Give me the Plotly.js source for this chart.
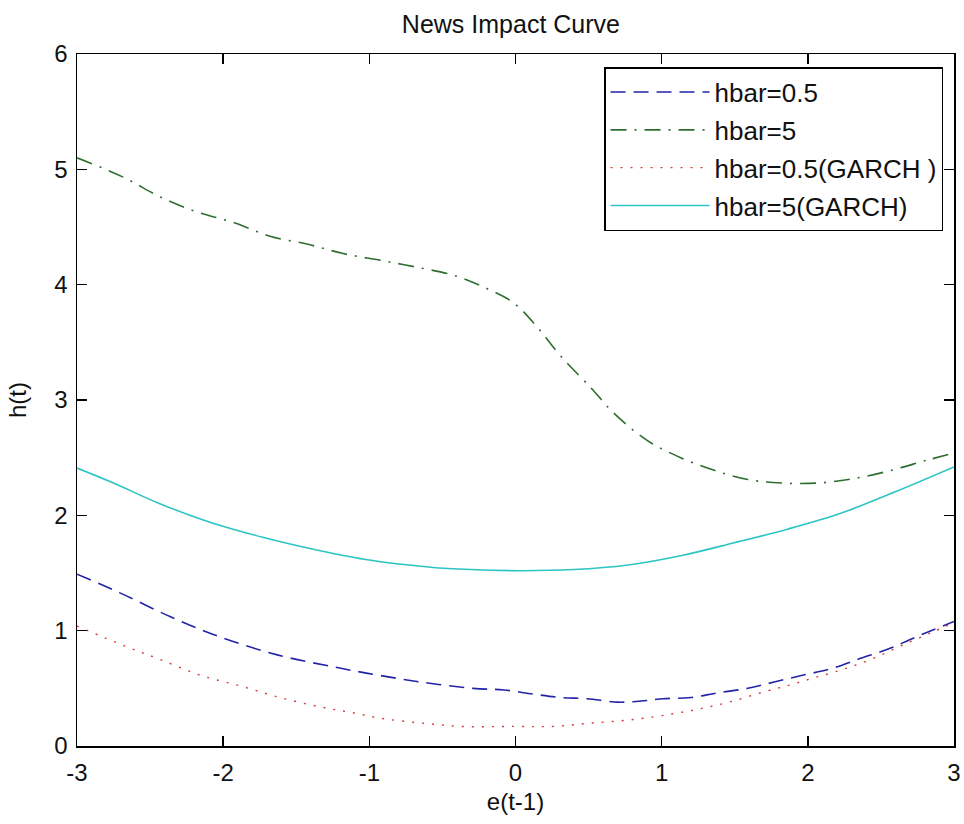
<!DOCTYPE html>
<html>
<head>
<meta charset="utf-8">
<script src="https://cdn.plot.ly/plotly-3.0.1.min.js"></script>
<style>html,body{margin:0;padding:0;background:#fff;}#chart{width:964px;height:824px;}</style>
</head>
<body>
<div id="chart"></div>
<script>
// hbar=0.5
const xBlue = [-3, -2.71, -2.36, -2.02, -1.63, -1.22, -1.01, -0.65, -0.29, -0.08, 0.12, 0.31, 0.49, 0.70, 0.86, 1.01, 1.20, 1.38, 1.59, 1.77, 1.97, 2.16, 2.36, 2.55, 2.73, 3.0];
const yBlue = [1.49, 1.33, 1.12, 0.945, 0.79, 0.68, 0.63, 0.555, 0.50, 0.486, 0.45, 0.42, 0.41, 0.38, 0.39, 0.41, 0.42, 0.46, 0.50, 0.555, 0.615, 0.67, 0.76, 0.84, 0.94, 1.08];
// hbar=5
const xGreen = [-3, -2.68, -2.43, -2.18, -1.93, -1.68, -1.42, -1.18, -0.92, -0.67, -0.42, -0.22, -0.01, 0.15, 0.31, 0.52, 0.67, 0.90, 1.13, 1.36, 1.59, 1.82, 2.07, 2.32, 2.57, 2.82, 3.0];
const yGreen = [5.10, 4.93, 4.76, 4.63, 4.54, 4.42, 4.35, 4.27, 4.21, 4.15, 4.08, 3.98, 3.84, 3.63, 3.38, 3.10, 2.89, 2.65, 2.50, 2.39, 2.31, 2.28, 2.28, 2.32, 2.39, 2.48, 2.54];
// hbar=0.5 (GARCH)
const xRed = [-3, -2.66, -2.43, -2.16, -1.88, -1.61, -1.34, -1.12, -0.92, -0.65, -0.38, -0.01, 0.26, 0.53, 0.81, 1.08, 1.29, 1.49, 1.70, 1.88, 2.04, 2.23, 2.43, 2.64, 2.84, 3.0];
const yRed = [1.04, 0.86, 0.75, 0.615, 0.52, 0.42, 0.34, 0.29, 0.24, 0.20, 0.17, 0.17, 0.17, 0.20, 0.23, 0.28, 0.33, 0.39, 0.47, 0.53, 0.59, 0.66, 0.75, 0.87, 0.98, 1.07];
// hbar=5 (GARCH)
const xCyan = [-3, -2.75, -2.45, -2.09, -1.73, -1.36, -0.99, -0.58, -0.31, 0.03, 0.40, 0.77, 1.13, 1.49, 1.86, 2.23, 2.59, 3.0];
const yCyan = [2.41, 2.28, 2.11, 1.94, 1.81, 1.70, 1.61, 1.55, 1.53, 1.52, 1.53, 1.57, 1.65, 1.76, 1.88, 2.02, 2.20, 2.42];

const seriesNames = ['hbar=0.5', 'hbar=5', 'hbar=0.5(GARCH )', 'hbar=5(GARCH)'];
const xTicks = [-3, -2, -1, 0, 1, 2, 3];
const xTickText = ['-3', '-2', '-1', '0', '1', '2', '3'];
const yTicks = [0, 1, 2, 3, 4, 5, 6];
const yTickText = ['0', '1', '2', '3', '4', '5', '6'];

const FONT = 'Arial, "Liberation Sans", sans-serif';

const traces = [
  {x: xBlue, y: yBlue, name: seriesNames[0], legendgroup: 'a', mode: 'lines', line: {shape: 'spline', color: '#2323a8', width: 1.6, dash: '15px,8px'}},
  {x: xGreen, y: yGreen, name: seriesNames[1], legendgroup: 'b', mode: 'lines', line: {shape: 'spline', color: '#2f6e2f', width: 1.6, dash: '16px,8px,2px,8px'}},
  {x: xRed, y: yRed, name: seriesNames[2], legendgroup: 'c', mode: 'lines', line: {shape: 'spline', color: '#d83a3a', width: 1.4, dash: '2px,8px'}},
  {x: xCyan, y: yCyan, name: seriesNames[3], legendgroup: 'd', mode: 'lines', line: {shape: 'spline', color: '#2cc4c4', width: 1.6}}
];

const axisCommon = {
  showgrid: false, zeroline: false, showline: true, linecolor: '#000', linewidth: 1.5,
  mirror: 'ticks', ticks: 'inside', ticklen: 10, tickwidth: 1.5, tickcolor: '#000',
  tickfont: {family: FONT, size: 24, color: '#111'}
};

const layout = {
  width: 964, height: 824,
  paper_bgcolor: '#fff', plot_bgcolor: '#fff',
  margin: {l: 77, r: 10, t: 54, b: 78},
  title: {text: 'News Impact Curve', font: {family: FONT, size: 25, color: '#111'}, x: 0.53, xanchor: 'center', y: 0.971, yanchor: 'middle'},
  xaxis: Object.assign({}, axisCommon, {range: [-3, 3], tickvals: xTicks, ticktext: xTickText, ticklabelstandoff: 5,
    title: {text: 'e(t-1)', font: {family: FONT, size: 24, color: '#111'}, standoff: 8}}),
  yaxis: Object.assign({}, axisCommon, {range: [0, 6], tickvals: yTicks, ticktext: yTickText, ticklabelstandoff: 3,
    title: {text: 'h(t)', font: {family: FONT, size: 24, color: '#111'}, standoff: 21}}),
  showlegend: true,
  legend: {x: 0.9875, xanchor: 'right', y: 0.981, yanchor: 'top', bgcolor: '#fff', bordercolor: '#000', borderwidth: 1.5,
    font: {family: FONT, size: 26, color: '#111'}, traceorder: 'grouped', tracegroupgap: 1, itemwidth: 99}
};

Plotly.newPlot('chart', traces, layout, {displayModeBar: false, staticPlot: true});
</script>
</body>
</html>
